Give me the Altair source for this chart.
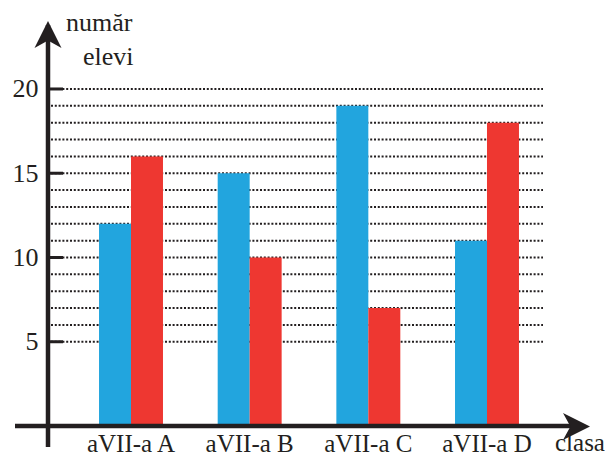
import altair as alt
import pandas as pd

categories = ["aVII-a A", "aVII-a B", "aVII-a C", "aVII-a D"]
series_keys = ["s1", "s2"]
series1 = [12, 15, 19, 11]
series2 = [16, 10, 7, 18]
grid_levels = [5, 6, 7, 8, 9, 10, 11, 12, 13, 14, 15, 16, 17, 18, 19, 20]
tick_values = [5, 10, 15, 20]
y_title_lines = ["număr", "elevi"]
x_title = "clasa"

BLUE = "#22a5de"
RED = "#ee3731"
INK = "#231f20"
FONT = "Liberation Serif"

rows = []
for c, a, b in zip(categories, series1, series2):
    rows.append({"clasa": c, "serie": "s1", "valoare": a})
    rows.append({"clasa": c, "serie": "s2", "valoare": b})
bars_df = pd.DataFrame(rows)
grid_df = pd.DataFrame({"nivel": grid_levels})
tick_df = pd.DataFrame({"tick": tick_values})
one = pd.DataFrame({"k": [0]})

yscale = alt.Scale(domain=[0, 24.39], nice=False, zero=True)
yaxis = alt.Axis(values=tick_values, domain=False, ticks=False, tickSize=0,
                 labelPadding=10, labelFont=FONT, labelFontSize=26,
                 labelColor=INK, grid=False, title=None)

bars = alt.Chart(bars_df).mark_bar().encode(
    x=alt.X("clasa:N", sort=categories, title=None,
            scale=alt.Scale(paddingInner=0.461, paddingOuter=0.43),
            axis=alt.Axis(domain=False, ticks=False, tickSize=0, labelPadding=25,
                          labelBaseline="alphabetic", labelFont=FONT, labelFontSize=25,
                          labelColor=INK, labelAngle=0, grid=False)),
    xOffset=alt.XOffset("serie:N", sort=series_keys,
                        scale=alt.Scale(paddingInner=0, paddingOuter=0)),
    y=alt.Y("valoare:Q", scale=yscale, title=None, axis=yaxis),
    color=alt.Color("serie:N", scale=alt.Scale(domain=series_keys, range=[BLUE, RED]), legend=None),
)

grid = alt.Chart(grid_df).mark_rule(color=INK, strokeWidth=2, strokeDash=[2, 1.8]).encode(
    y=alt.Y("nivel:Q", scale=yscale, title=None, axis=yaxis),
    x=alt.value(3), x2=alt.value(495),
)

ticks = alt.Chart(tick_df).mark_rule(color=INK, strokeWidth=3).encode(
    y=alt.Y("tick:Q", scale=yscale, title=None, axis=yaxis),
    x=alt.value(0), x2=alt.value(15),
)

yaxis_line = alt.Chart(one).mark_rule(color=INK, strokeWidth=4.5).encode(
    x=alt.value(0), y=alt.value(10), y2=alt.value(432),
)
xaxis_line = alt.Chart(one).mark_rule(color=INK, strokeWidth=4.5).encode(
    x=alt.value(-33), x2=alt.value(530), y=alt.value(411),
)

up_arrow = alt.Chart(one).mark_point(
    shape="M0,-1L1,1L0,0.45L-1,1Z", filled=True, size=729, color=INK, opacity=1, strokeWidth=0
).encode(x=alt.value(0), y=alt.value(19.5))

right_arrow = alt.Chart(one).mark_point(
    shape="M1,0L-1,-1L-0.45,0L-1,1Z", filled=True, size=729, color=INK, opacity=1, strokeWidth=0
).encode(x=alt.value(528.5), y=alt.value(411.5))

t1 = alt.Chart(one).mark_text(text=y_title_lines[0], font=FONT, fontSize=26, color=INK,
                              align="left", baseline="alphabetic").encode(
    x=alt.value(18), y=alt.value(16))
t2 = alt.Chart(one).mark_text(text=y_title_lines[1], font=FONT, fontSize=26, color=INK,
                              align="left", baseline="alphabetic").encode(
    x=alt.value(35), y=alt.value(50))
t3 = alt.Chart(one).mark_text(text=x_title, font=FONT, fontSize=25, color=INK,
                              align="left", baseline="alphabetic").encode(
    x=alt.value(507), y=alt.value(436))

chart = alt.layer(grid, bars, ticks, yaxis_line, xaxis_line, up_arrow, right_arrow, t1, t2, t3).properties(
    width=522, height=411,
    padding={"left": 40, "top": 7, "right": 35, "bottom": 29},
    autosize=alt.AutoSizeParams(type="none"),
).configure_view(stroke=None)

chart.save("out.html", embed_options={"renderer": "svg", "actions": False})
